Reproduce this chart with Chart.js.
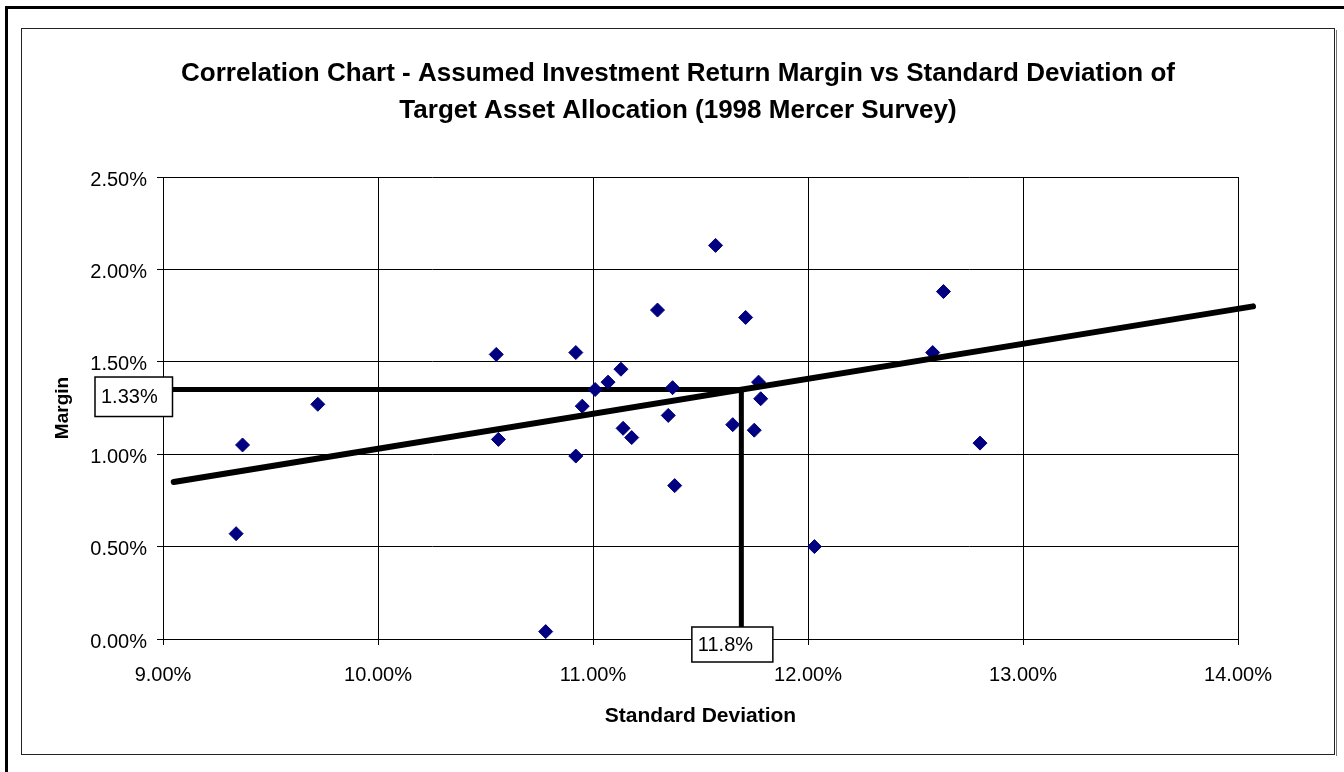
<!DOCTYPE html>
<html>
<head>
<meta charset="utf-8">
<title>Correlation Chart</title>
<script src="https://cdn.jsdelivr.net/npm/chart.js@4.4.1/dist/chart.umd.min.js"></script>
<style>
  html, body { margin: 0; padding: 0; background: #fff; }
  canvas { display: block; }
</style>
</head>
<body>
<canvas id="corrChart" width="1344" height="772"></canvas>
<script>
const titleLines = [
  'Correlation Chart - Assumed Investment Return Margin vs Standard Deviation of',
  'Target Asset Allocation (1998 Mercer Survey)'
];

// standard deviation (%) and margin (%) for each plan
const stdDev = [9.34, 9.37, 9.72, 10.55, 10.56, 10.78, 10.92, 10.92, 10.95, 11.01,
  11.07, 11.13, 11.14, 11.18, 11.30, 11.35, 11.37, 11.38, 11.57, 11.65,
  11.71, 11.75, 11.77, 11.78, 12.03, 12.58, 12.63, 12.80];
const margin = [0.57, 1.05, 1.27, 1.54, 1.08, 0.04, 1.55, 0.99, 1.26, 1.35,
  1.39, 1.46, 1.14, 1.09, 1.78, 1.21, 1.36, 0.83, 2.13, 1.16,
  1.74, 1.13, 1.39, 1.30, 0.50, 1.55, 1.88, 1.06];

// trend line end points
const trendX = [9.05, 14.07];
const trendY = [0.85, 1.80];

// drop lines to the average point
const markX = [9, 11.69, 11.69];
const markY = [1.35, 1.35, 0];
const markLabels = ['1.33%', '11.8%'];

const xTickLabels = ['9.00%', '10.00%', '11.00%', '12.00%', '13.00%', '14.00%'];
const yTickLabels = ['0.00%', '0.50%', '1.00%', '1.50%', '2.00%', '2.50%'];

const FONT = '"Liberation Sans", Arial, sans-serif';
Chart.defaults.font.family = FONT;
Chart.defaults.color = '#000';

const toPoints = (xs, ys) => xs.map((v, i) => ({ x: v, y: ys[i] }));

const framePlugin = {
  id: 'frame',
  beforeDraw(chart) {
    const ctx = chart.ctx;
    ctx.save();
    ctx.fillStyle = '#fff';
    ctx.fillRect(0, 0, chart.width, chart.height);
    ctx.fillStyle = '#000';
    ctx.fillRect(5, 6, 3, chart.height - 6);
    ctx.fillRect(5, 6, chart.width - 5, 3);
    ctx.strokeStyle = '#222';
    ctx.lineWidth = 1;
    ctx.strokeRect(21.5, 28.5, 1313, 726);
    ctx.strokeStyle = '#777';
    ctx.beginPath();
    ctx.moveTo(1336.5, 30);
    ctx.lineTo(1336.5, 756);
    ctx.stroke();
    // title
    ctx.fillStyle = '#000';
    ctx.font = 'bold 26px ' + FONT;
    ctx.textAlign = 'center';
    ctx.textBaseline = 'alphabetic';
    ctx.fillText(titleLines[0], 678, 81);
    ctx.fillText(titleLines[1], 678, 118);
    ctx.restore();
  }
};

const labelPlugin = {
  id: 'markLabels',
  afterDatasetsDraw(chart) {
    const ctx = chart.ctx;
    const xs = chart.scales.x, ys = chart.scales.y;
    const hy = ys.getPixelForValue(markY[0]);
    const vx = xs.getPixelForValue(markX[1]);
    const y0 = ys.getPixelForValue(markY[2]);
    const boxes = [
      { left: xs.getPixelForValue(markX[0]) - 68, top: hy - 12.5, w: 77.5, h: 39.5, text: markLabels[0] },
      { left: vx - 49.5, top: y0 - 12, w: 81, h: 35, text: markLabels[1] }
    ];
    ctx.save();
    ctx.font = '20px ' + FONT;
    ctx.textAlign = 'left';
    ctx.textBaseline = 'middle';
    boxes.forEach(b => {
      ctx.fillStyle = '#fff';
      ctx.fillRect(b.left, b.top, b.w, b.h);
      ctx.strokeStyle = '#000';
      ctx.lineWidth = 1.5;
      ctx.strokeRect(b.left, b.top, b.w, b.h);
      ctx.fillStyle = '#000';
      ctx.fillText(b.text, b.left + 6, b.top + b.h / 2 + 1);
    });
    ctx.restore();
  }
};

new Chart(document.getElementById('corrChart'), {
  type: 'scatter',
  data: {
    datasets: [
      {
        label: 'Trend',
        data: toPoints(trendX, trendY),
        showLine: true,
        borderColor: '#000',
        borderWidth: 6,
        borderCapStyle: 'round',
        pointRadius: 0,
        clip: false
      },
      {
        label: 'Plans',
        data: toPoints(stdDev, margin),
        pointStyle: 'rectRot',
        pointRadius: 7,
        backgroundColor: '#000080',
        borderColor: '#000080',
        borderWidth: 1
      },
      {
        label: 'Average',
        data: toPoints(markX, markY),
        showLine: true,
        borderColor: '#000',
        borderWidth: 5,
        borderJoinStyle: 'miter',
        pointRadius: 0
      }
    ]
  },
  options: {
    responsive: false,
    animation: false,
    events: [],
    layout: { padding: { left: 21, right: 106, top: 177, bottom: 0 } },
    plugins: { legend: { display: false }, tooltip: { enabled: false } },
    scales: {
      x: {
        type: 'linear',
        min: 9, max: 14,
        afterBuildTicks: s => { s.ticks = xTickLabels.map((_, i) => ({ value: 9 + i })); },
        afterFit: s => { s.height = 133; },
        ticks: { callback: (v, i) => xTickLabels[i], font: { size: 20 }, padding: 18, maxRotation: 0 },
        grid: { color: '#000', lineWidth: 1, tickLength: 6 },
        border: { color: '#000', width: 1 },
        title: { display: true, text: 'Standard Deviation', font: { size: 21, weight: 'bold' }, padding: { top: 0, bottom: 43 } }
      },
      y: {
        type: 'linear',
        min: 0, max: 2.5,
        afterBuildTicks: s => { s.ticks = yTickLabels.map((_, i) => ({ value: i * 0.5 })); },
        afterFit: s => { s.width = 142; },
        ticks: { callback: (v, i) => yTickLabels[i], font: { size: 20 }, padding: 10, labelOffset: 3 },
        grid: { color: '#000', lineWidth: 1, tickLength: 6 },
        border: { color: '#000', width: 1 },
        title: { display: true, text: 'Margin', font: { size: 19, weight: 'bold' }, padding: { top: 30, bottom: 0 } }
      }
    }
  },
  plugins: [framePlugin, labelPlugin]
});
</script>
</body>
</html>
